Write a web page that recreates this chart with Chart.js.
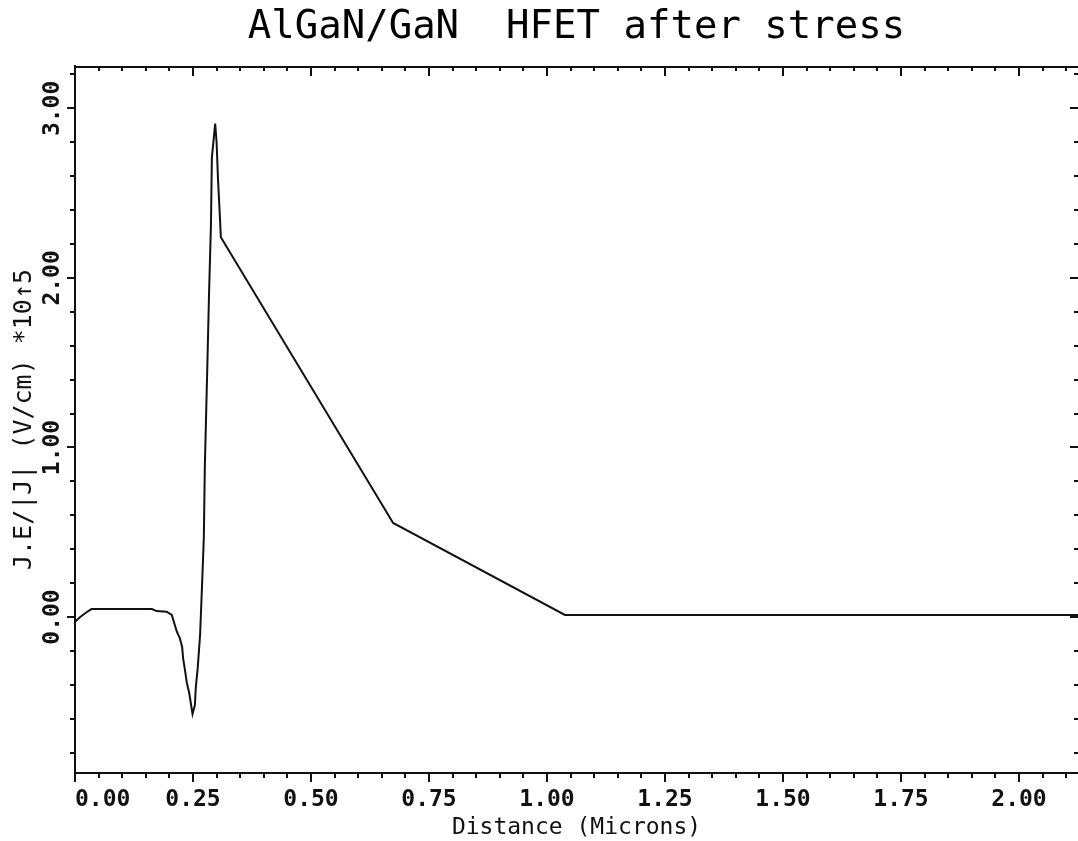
<!DOCTYPE html>
<html>
<head>
<meta charset="utf-8">
<title>AlGaN/GaN HFET after stress</title>
<script src="https://cdn.jsdelivr.net/npm/chart.js@4/dist/chart.umd.min.js"></script>
<style>
    html, body { margin: 0; padding: 0; background: #fff; }
    canvas { display: block; }
</style>
</head>
<body>
<canvas id="fieldChart" width="1078" height="841"></canvas>
<script>
// ===== DATA =====
// Distance along the channel (microns)
const distance = [
    0.000, 0.011, 0.026, 0.035, 0.163, 0.173, 0.194, 0.205,
    0.216, 0.222, 0.227, 0.229, 0.233, 0.237, 0.242, 0.246, 0.249,
    0.254, 0.256, 0.260, 0.265, 0.269, 0.273, 0.275, 0.280, 0.284,
    0.288, 0.290, 0.297, 0.300, 0.303, 0.307, 0.309,
    0.674, 1.038, 2.125
];
// J.E/|J| in units of 10^5 V/cm
const field = [
    -0.028, 0.000, 0.031, 0.047, 0.047, 0.035, 0.031, 0.012,
    -0.088, -0.124, -0.177, -0.242, -0.313, -0.389, -0.448, -0.519, -0.572,
    -0.520, -0.413, -0.300, -0.106, 0.177, 0.472, 0.879, 1.440, 1.910,
    2.310, 2.710, 2.910, 2.800, 2.580, 2.360, 2.240,
    0.555, 0.012, 0.012
];

const xLabelValues = [0, 0.25, 0.5, 0.75, 1.0, 1.25, 1.5, 1.75, 2.0];
const yLabels = ['0.00', '1.00', '2.00', '3.00'];
const yLabelValues = [0, 1, 2, 3];

// Axis ranges and tick spacing
const xMin = 0, xMax = 2.125, xMinorStep = 0.05, xMajorStep = 0.25;
const yMin = -0.92, yMax = 3.25, yMinorStep = 0.2, yMajorStep = 1.0;

const inkColor = '#111';
const monoFont = "'DejaVu Sans Mono', 'Liberation Mono', monospace";

const isMajor = (v, step) => Math.abs(v / step - Math.round(v / step)) < 1e-6;

// Build evenly spaced tick objects between two bounds
function stepTicks(from, to, step) {
    const ticks = [];
    const n = Math.floor((to - from) / step + 1e-6);
    for (let i = 0; i <= n; i++) {
        ticks.push({ value: +(from + i * step).toFixed(4) });
    }
    return ticks;
}

// Frame line, inward/outward tick marks and rotated y labels
const plotFrame = {
    id: 'plotFrame',
    afterDraw(chart) {
        const { ctx, chartArea: a, scales: { x, y } } = chart;
        ctx.save();
        ctx.strokeStyle = inkColor;
        ctx.lineWidth = 2;
        ctx.beginPath();
        ctx.moveTo(a.left, a.top + 1);
        ctx.lineTo(a.right, a.top + 1);

        x.ticks.forEach(t => {
            const px = Math.round(x.getPixelForValue(t.value));
            const major = isMajor(t.value, xMajorStep);
            ctx.moveTo(px, a.bottom);
            ctx.lineTo(px, a.bottom + (major ? 9 : 5));
            ctx.moveTo(px, a.top);
            ctx.lineTo(px, a.top + (major ? 10 : 5));
        });

        y.ticks.forEach(t => {
            const py = Math.round(y.getPixelForValue(t.value));
            const major = isMajor(t.value, yMajorStep);
            ctx.moveTo(a.left, py);
            ctx.lineTo(a.left - (major ? 8 : 5), py);
            ctx.moveTo(a.right, py);
            ctx.lineTo(a.right - (major ? 8 : 4), py);
        });
        ctx.stroke();

        // y tick labels read bottom-to-top
        ctx.fillStyle = inkColor;
        ctx.font = 'bold 23px ' + monoFont;
        ctx.textAlign = 'center';
        ctx.textBaseline = 'middle';
        yLabelValues.forEach((v, i) => {
            ctx.save();
            ctx.translate(53, y.getPixelForValue(v));
            ctx.rotate(-Math.PI / 2);
            ctx.fillText(yLabels[i], 0, 0);
            ctx.restore();
        });
        ctx.restore();
    }
};

const chart = new Chart(document.getElementById('fieldChart'), {
    type: 'line',
    data: {
        datasets: [{
            data: distance.map((d, i) => ({ x: d, y: field[i] })),
            borderColor: inkColor,
            borderWidth: 2,
            pointRadius: 0,
            tension: 0,
            fill: false
        }]
    },
    options: {
        responsive: false,
        animation: false,
        layout: { padding: 0 },
        plugins: {
            legend: { display: false },
            tooltip: { enabled: false },
            title: {
                display: true,
                fullSize: false,
                text: 'AlGaN/GaN  HFET after stress',
                color: '#000',
                font: { family: monoFont, size: 39, weight: 'normal', lineHeight: 1.2 },
                padding: { top: 4.6, bottom: 14.6 }
            }
        },
        scales: {
            x: {
                type: 'linear',
                min: xMin,
                max: xMax,
                afterBuildTicks: scale => { scale.ticks = stepTicks(xMin, 2.1, xMinorStep); },
                afterFit: scale => { scale.height = 68; },
                grid: { display: false },
                border: { display: true, color: inkColor, width: 2 },
                ticks: {
                    autoSkip: false,
                    maxRotation: 0,
                    align: 'inner',
                    padding: 5,
                    color: inkColor,
                    font: { family: monoFont, size: 23, weight: 'bold' },
                    callback: value => xLabelValues.some(v => Math.abs(v - value) < 1e-6) ? value.toFixed(2) : ''
                },
                title: {
                    display: true,
                    text: 'Distance (Microns)',
                    color: inkColor,
                    font: { family: monoFont, size: 23, lineHeight: 1.1 },
                    padding: { top: 0, bottom: 0 }
                }
            },
            y: {
                type: 'linear',
                min: yMin,
                max: yMax,
                afterBuildTicks: scale => { scale.ticks = stepTicks(-0.8, 3.2, yMinorStep); },
                afterFit: scale => { scale.width = 75; },
                grid: { display: false },
                border: { display: true, color: inkColor, width: 2 },
                ticks: { display: false },
                title: {
                    display: true,
                    text: 'J.E/|J| (V/cm) *10↑5',
                    color: inkColor,
                    font: { family: monoFont, size: 25, lineHeight: 1.2 },
                    padding: { top: 9, bottom: 0 }
                }
            }
        }
    },
    plugins: [plotFrame]
});
</script>
</body>
</html>
